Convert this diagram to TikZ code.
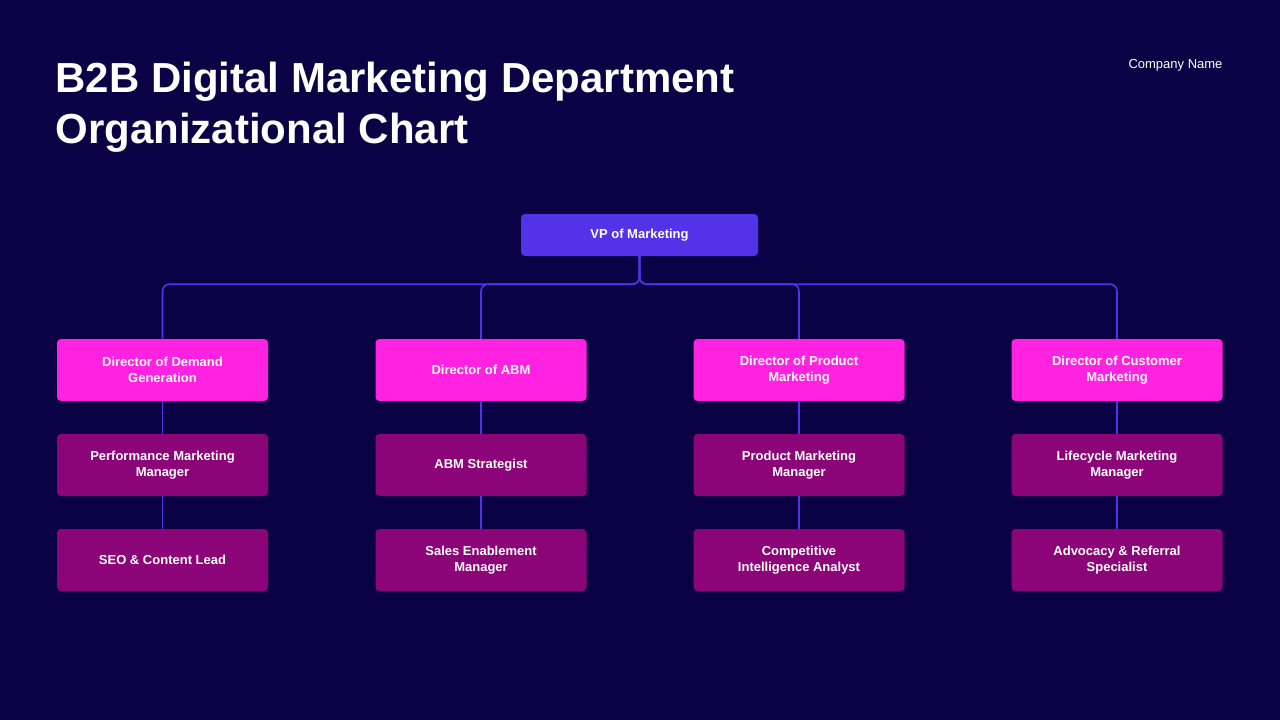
\documentclass[tikz,border=0pt]{standalone}
\usepackage{fontspec}
\setmainfont{Liberation Sans}
\definecolor{bg}{HTML}{0A0245}
\definecolor{vpc}{HTML}{5333E8}
\definecolor{dirc}{HTML}{FF22E0}
\definecolor{subc}{HTML}{8B0578}
\definecolor{linec}{HTML}{5333E8}
\begin{document}
\begin{tikzpicture}[x=1pt,y=-1pt,
  box/.style={rounded corners=4pt,minimum width=211pt,minimum height=62pt,align=center,text=white,font=\bfseries\fontsize{13}{16}\selectfont,inner sep=2pt},
  dir/.style={box,fill=dirc},
  sub/.style={box,fill=subc},
  conn/.style={draw=linec,line width=1.6pt,rounded corners=7pt}]
\fill[bg] (0,0) rectangle (1280,720);
\useasboundingbox (0,0) rectangle (1280,720);
\node[anchor=base west,text=white,font=\fontsize{42}{50}\selectfont\bfseries] (t1) at (52,92) {B2B Digital Marketing Department};
\node[anchor=base west,text=white,font=\fontsize{42}{50}\selectfont\bfseries] (t2) at (52,143) {Organizational Chart};
\node[anchor=base east,text=white,font=\fontsize{13}{16}\selectfont] (cn) at (1226,68) {Company Name};
\node[box,fill=vpc,minimum width=237pt,minimum height=42pt] (vp) at (639.5,235) {VP of Marketing};
\foreach \i/\x/\a/\b/\c in {
  1/162.5/{Director of Demand\\Generation}/{Performance Marketing\\Manager}/{SEO \& Content Lead},
  2/481/{Director of ABM}/{ABM Strategist}/{Sales Enablement\\Manager},
  3/799/{Director of Product\\Marketing}/{Product Marketing\\Manager}/{Competitive\\Intelligence Analyst},
  4/1117/{Director of Customer\\Marketing}/{Lifecycle Marketing\\Manager}/{Advocacy \& Referral\\Specialist}} {
  \node[dir] (d\i) at (\x,370) {\a};
  \node[sub] (s\i) at (\x,465) {\b};
  \node[sub] (u\i) at (\x,560) {\c};
  \draw[conn] (vp.south) -- ++(0,28) -| (d\i.north);
  \draw[conn] (d\i.south) -- (s\i.north);
  \draw[conn] (s\i.south) -- (u\i.north);
}
\end{tikzpicture}
\end{document}
